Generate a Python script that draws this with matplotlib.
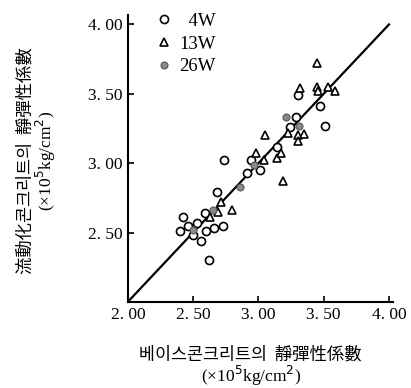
import matplotlib.pyplot as plt

# static modulus of base concrete (x) vs. superplasticized concrete (y), x10^5 kg/cm2
w4_x = [2.40, 2.42, 2.46, 2.50, 2.53, 2.56, 2.59, 2.60, 2.62, 2.66, 2.68, 2.73,
        2.74, 2.91, 2.94, 3.01, 3.14, 3.24, 3.30, 3.29, 3.47, 3.51]
w4_y = [2.51, 2.61, 2.55, 2.48, 2.57, 2.44, 2.64, 2.51, 2.30, 2.53, 2.79, 2.55,
        3.02, 2.93, 3.02, 2.95, 3.12, 3.26, 3.49, 3.33, 3.41, 3.27]

w13_x = [2.63, 2.69, 2.71, 2.80, 2.98, 3.04, 3.05, 3.14, 3.17, 3.19, 3.23, 3.30,
         3.30, 3.35, 3.32, 3.45, 3.45, 3.46, 3.53, 3.59]
w13_y = [2.61, 2.65, 2.72, 2.66, 3.07, 3.02, 3.20, 3.04, 3.07, 2.87, 3.22, 3.20,
         3.16, 3.21, 3.54, 3.72, 3.55, 3.52, 3.55, 3.52]

w26_x = [2.50, 2.65, 2.86, 2.97, 3.21, 3.31]
w26_y = [2.52, 2.66, 2.83, 2.99, 3.33, 3.27]

line_x = [2.0, 4.0]
line_y = [2.0, 4.0]

ticks = [2.0, 2.5, 3.0, 3.5, 4.0]
tick_labels = ['2. 00', '2. 50', '3. 00', '3. 50', '4. 00']

cjk = ['Noto Sans CJK KR', 'DejaVu Sans']
num = ['Liberation Serif', 'DejaVu Serif']

fig = plt.figure(figsize=(4.11, 3.88), dpi=100)
ax = fig.add_axes([0.311, 0.222, 0.645, 0.74])

ax.plot(line_x, line_y, color='black', lw=1.6, zorder=1)
ax.plot(w4_x, w4_y, 'o', ms=5.8, mfc='white', mec='black', mew=1.2,
        ls='none', label='  4W', zorder=3)
ax.plot(w13_x, w13_y, '^', ms=6, mfc='white', mec='black', mew=1.2,
        ls='none', label='13W', zorder=3)
ax.plot(w26_x, w26_y, 'o', ms=5, mfc='#8a8a8a', mec='#555555', mew=0.8,
        ls='none', label='26W', zorder=4)

ax.set_xlim(2.0, 4.03)
ax.set_ylim(2.0, 4.07)
ax.set_xticks(ticks)
ax.set_yticks(ticks[1:])
ax.set_xticklabels(tick_labels, family=num, fontsize=12.5)
ax.set_yticklabels(tick_labels[1:], family=num, fontsize=12.5)
ax.tick_params(direction='in', length=4, width=1.2, pad=4)
for s in ['top', 'right']:
    ax.spines[s].set_visible(False)
for s in ['left', 'bottom']:
    ax.spines[s].set_linewidth(1.5)

leg = ax.legend(loc='upper left', bbox_to_anchor=(0.08, 1.04), frameon=False,
                prop={'family': num, 'size': 13.5}, handlelength=0.6,
                handletextpad=0.5, labelspacing=0.3, borderpad=0)

fig.text(0.61, 0.085, '베이스콘크리트의  靜彈性係數', family=cjk, fontsize=12.5,
         ha='center', va='center')
fig.text(0.61, 0.032, '(×10$^5$kg/cm$^2$)', family=num, fontsize=12.5,
         ha='center', va='center')
fig.text(0.062, 0.585, '流動化콘크리트의  靜彈性係數', family=cjk, fontsize=12.5,
         ha='center', va='center', rotation=90)
fig.text(0.112, 0.585, '(×10$^5$kg/cm$^2$)', family=num, fontsize=12.5,
         ha='center', va='center', rotation=90)

fig.savefig('out.png', dpi=100)
